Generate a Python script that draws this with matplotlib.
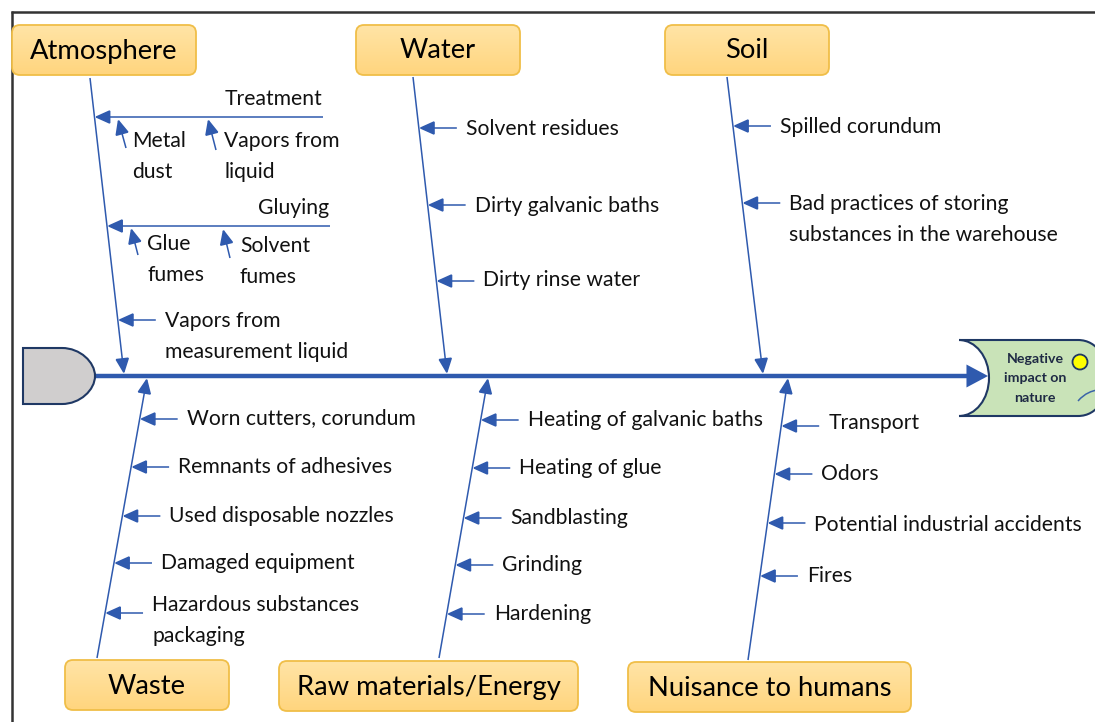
import matplotlib
matplotlib.use("Agg")
import matplotlib.pyplot as plt
import numpy as np
from matplotlib.patches import FancyBboxPatch, FancyArrowPatch, PathPatch, Circle
from matplotlib.path import Path
from matplotlib.colors import LinearSegmentedColormap

plt.rcParams['font.family'] = ['Lato', 'DejaVu Sans']

# ---------------- data ----------------
top_categories = ["Atmosphere", "Water", "Soil"]
bottom_categories = ["Waste", "Raw materials/Energy", "Nuisance to humans"]
effect_label = "Negative\nimpact on\nnature"

atmosphere_branches = ["Treatment", "Gluying"]
treatment_subcauses = ["Metal\ndust", "Vapors from\nliquid"]
gluying_subcauses = ["Glue\nfumes", "Solvent\nfumes"]
atmosphere_causes = ["Vapors from\nmeasurement liquid"]
water_causes = ["Solvent residues", "Dirty galvanic baths", "Dirty rinse water"]
soil_causes = ["Spilled corundum", "Bad practices of storing\nsubstances in the warehouse"]
waste_causes = ["Worn cutters, corundum", "Remnants of adhesives", "Used disposable nozzles",
                "Damaged equipment", "Hazardous substances\npackaging"]
raw_causes = ["Heating of galvanic baths", "Heating of glue", "Sandblasting", "Grinding", "Hardening"]
nuisance_causes = ["Transport", "Odors", "Potential industrial accidents", "Fires"]

# ---------------- layout (pixel space) ----------------
W, H = 1095, 722
fig = plt.figure(figsize=(W / 100, H / 100), dpi=100)
ax = fig.add_axes([0, 0, 1, 1])
ax.set_xlim(0, W)
ax.set_ylim(H, 0)
ax.axis('off')

LINE = '#4472C4'
HEAD = '#2F5AAE'
SPINE = '#2F5597'
NAVY = '#1F3864'
TXT = '#111111'
FS = 15.2
TITLE_FS = 19.7
PITCH = 31

# frame
ax.plot([11, W + 5], [11.5, 11.5], color='#333333', lw=1.8, solid_capstyle='butt')
ax.plot([11.5, 11.5], [11, H + 5], color='#333333', lw=1.8, solid_capstyle='butt')

box_cmap = LinearSegmentedColormap.from_list('box', ['#FFE4A6', '#FFD57E'])


def arrow(p0, p1, lw=1.1, color=LINE, hl=0.8, hw=0.36, ms=12):
    a = FancyArrowPatch(p0, p1, arrowstyle=f'-|>,head_length={hl},head_width={hw}',
                        mutation_scale=ms, lw=lw, color=color, shrinkA=0, shrinkB=0,
                        joinstyle='miter', capstyle='butt', zorder=3)
    a.set_facecolor(HEAD)
    a.set_edgecolor(HEAD)
    ax.add_patch(a)


def label(x, y, s, fs=FS, ha='left', pitch=PITCH):
    for i, part in enumerate(s.split('\n')):
        ax.text(x, y + i * pitch, part, fontsize=fs, ha=ha, va='center', color=TXT, zorder=4)


def box(x0, y0, x1, y1, s):
    r = 8
    p = FancyBboxPatch((x0 + r, y0 + r), x1 - x0 - 2 * r, y1 - y0 - 2 * r,
                       boxstyle=f'round,pad={r},rounding_size={r}', fc='none', ec='#F0BE48',
                       lw=1.3, zorder=2.5)
    ax.add_patch(p)
    grad = np.linspace(0, 1, 64).reshape(-1, 1)
    im = ax.imshow(grad, cmap=box_cmap, extent=(x0, x1, y1, y0), aspect='auto',
                   origin='upper', zorder=2, interpolation='bilinear')
    im.set_clip_path(p)
    ax.text((x0 + x1) / 2, (y0 + y1) / 2 + 1, s, fontsize=TITLE_FS, ha='center', va='center',
            color='#000000', zorder=4)


def bone_x(b, y):
    (x0, y0), (x1, y1) = b
    return x0 + (y - y0) * (x1 - x0) / (y1 - y0)


# spine
spine_y = 376
arrow((95, spine_y), (988, spine_y), lw=3.2, color=SPINE, hl=0.75, hw=0.4, ms=14)

# tail
tail = Path([(23, 348), (62, 348), (80, 348), (95, 362), (95, 376),
             (95, 390), (80, 404), (62, 404), (23, 404), (23, 348)],
            [Path.MOVETO, Path.LINETO, Path.CURVE4, Path.CURVE4, Path.CURVE4,
             Path.CURVE4, Path.CURVE4, Path.CURVE4, Path.LINETO, Path.CLOSEPOLY])
ax.add_patch(PathPatch(tail, fc='#D0CECE', ec=NAVY, lw=1.5, zorder=5))

# head
k = 0.5523
head = Path([(959, 340), (1078, 340), (1098, 340), (1108, 360), (1108, 378),
             (1108, 396), (1098, 416), (1078, 416), (959, 416),
             (959 + 30 * k, 416), (989, 378 + 38 * k), (989, 378),
             (989, 378 - 38 * k), (959 + 30 * k, 340), (959, 340)],
            [Path.MOVETO, Path.LINETO, Path.CURVE4, Path.CURVE4, Path.CURVE4,
             Path.CURVE4, Path.CURVE4, Path.CURVE4, Path.LINETO,
             Path.CURVE4, Path.CURVE4, Path.CURVE4, Path.CURVE4, Path.CURVE4, Path.CURVE4])
ax.add_patch(PathPatch(head, fc='#C9E3B8', ec=NAVY, lw=1.5, zorder=5))
for i, part in enumerate(effect_label.split('\n')):
    ax.text(1035, 359 + i * 19.5, part, fontsize=10.2, fontweight='bold', ha='center', va='center',
            color='#1F2A44', zorder=6)
ax.add_patch(Circle((1080, 362), 7.5, fc='#FFFF00', ec=NAVY, lw=1.3, zorder=6))
curve = Path([(1078, 401), (1085, 393), (1092, 391), (1097, 390)],
             [Path.MOVETO, Path.CURVE4, Path.CURVE4, Path.CURVE4])
ax.add_patch(PathPatch(curve, fc='none', ec='#3B64A8', lw=1.1, zorder=6))

# category boxes
top_boxes = [(12, 25, 196, 75), (356, 25, 520, 75), (665, 25, 829, 75)]
bottom_boxes = [(65, 660, 229, 710), (279, 661, 578, 711), (628, 662, 911, 712)]
for b, s in zip(top_boxes, top_categories):
    box(*b, s)
for b, s in zip(bottom_boxes, bottom_categories):
    box(*b, s)

# bones
bones_top = [((90, 78), (124, 374)), ((413, 77), (447, 374)), ((727, 77), (763, 374))]
bones_bottom = [((97, 658), (147, 378)), ((439, 658), (488, 378)), ((748, 660), (788, 378))]
for b in bones_top + bones_bottom:
    arrow(b[0], b[1], lw=1.1)

# atmosphere branches
atm = bones_top[0]
branch_y = [117, 226]
branch_end = [323, 330]
for name, y, xe in zip(atmosphere_branches, branch_y, branch_end):
    arrow((xe, y), (bone_x(atm, y), y))
    label(xe - 1, y - 18, name, ha='right')

sub_arrows = [[((126, 148), (118, 119)), ((216, 150), (208, 119))],
              [((138, 255), (131, 228)), ((230, 258), (223, 229))]]
sub_text = [[(132, 141), (224, 141)], [(147, 244), (240, 246)]]
for subs, arrs, tx in zip([treatment_subcauses, gluying_subcauses], sub_arrows, sub_text):
    for s, (p0, p1), (x, y) in zip(subs, arrs, tx):
        arrow(p0, p1)
        label(x, y, s)


def causes(bone, names, ys, text_dy, length=38, gap=9):
    for s, y, dy in zip(names, ys, text_dy):
        tip = bone_x(bone, y)
        start = tip + length
        arrow((start, y), (tip, y))
        label(start + gap, y + dy, s)


causes(atm, atmosphere_causes, [320], [1])
causes(bones_top[1], water_causes, [128, 205, 281], [1, 1, -1])
causes(bones_top[2], soil_causes, [126, 203], [1, 1])
causes(bones_bottom[0], waste_causes, [419, 467, 516, 563, 613], [-1, 0, 0, 0, -8])
causes(bones_bottom[1], raw_causes, [420, 468, 518, 565, 614], [0, 0, 0, 0, 0])
causes(bones_bottom[2], nuisance_causes, [426, 474, 523, 576], [-3, 0, 2, 0])

fig.savefig('out.png', dpi=100)
